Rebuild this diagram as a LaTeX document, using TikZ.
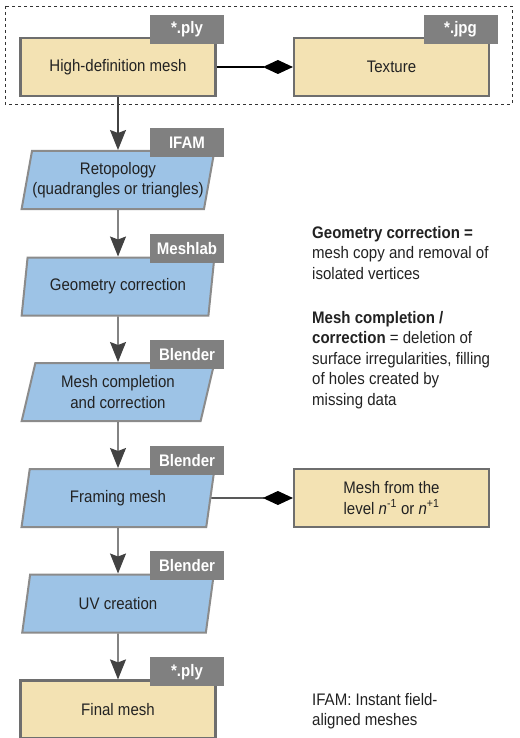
\documentclass[tikz,border=0pt]{standalone}
\usepackage{fontspec}
\setmainfont{Liberation Sans}[FakeStretch=0.9]
\definecolor{meshbeige}{RGB}{243,226,179}
\definecolor{stepblue}{RGB}{157,195,230}
\definecolor{taggray}{RGB}{128,128,128}
\definecolor{edgegray}{RGB}{110,110,110}
\definecolor{textdark}{RGB}{34,34,34}
\usetikzlibrary{shapes.geometric,arrows.meta}

\begin{document}
\begin{tikzpicture}[x=1pt,y=-1pt,font=\fontsize{16.7}{20.5}\selectfont,text=textdark]

%
% Styles
%
\tikzstyle{mesh}    = [rectangle,draw=edgegray,fill=meshbeige,line width=2.2pt,minimum width=195pt,minimum height=58pt,inner sep=0pt,align=center]
\tikzstyle{process} = [trapezium,trapezium left angle=74,trapezium right angle=106,trapezium stretches=true,draw=edgegray!80,fill=stepblue,line width=2pt,minimum width=193pt,minimum height=58pt,inner sep=0pt,align=center]
\tikzstyle{tooltag} = [rectangle,fill=taggray,text=white,font=\fontsize{16.7}{20}\selectfont\bfseries,minimum width=74pt,minimum height=29pt,inner sep=0pt,anchor=south]
\tikzstyle{note}    = [align=left,anchor=north west,inner sep=0pt]

\tikzstyle{flow}    = [-{Stealth[length=20pt,width=16pt,inset=3pt]},line width=1.1pt,draw=edgegray!60!black]
\tikzstyle{haspart} = [-{Diamond[length=30pt,width=14pt]},line width=1.1pt,draw=black]

\useasboundingbox (0,0) rectangle (519,738);
\clip (0,0) rectangle (519,738);
\fill[white] (0,0) rectangle (519,738);

% group of the input files
\draw[dash pattern=on 3pt off 3pt,line width=0.9pt,draw=black!80] (5,6) rectangle (512,104);

\node[mesh]    (hdmesh)   at (118,67)    {High-definition mesh};
\node[mesh]    (texture)  at (391.5,67)  {Texture};
\node[process] (retopo)   at (118,180)   {Retopology\\(quadrangles or triangles)};
\node[process] (geom)     at (118,286.5) {Geometry correction};
\node[process] (complete) at (118,392)   {Mesh completion\\and correction};
\node[process] (framing)  at (118,498)   {Framing mesh};
\node[process] (uv)       at (118,603.5) {UV creation};
\node[mesh]    (final)    at (118,709.5) {Final mesh};
\node[mesh]    (level)    at (391.5,498) {Mesh from the\\level \textit{n}\textsuperscript{-1} or \textit{n}\textsuperscript{+1}};

% software / file tags
\foreach \boxname/\toolname in {hdmesh/*.ply,texture/*.jpg,retopo/IFAM,geom/Meshlab,complete/Blender,framing/Blender,uv/Blender,final/*.ply}
  \node[tooltag] (\boxname-tag) at ([xshift=69pt,yshift=-7pt]\boxname.north) {\toolname};

\foreach \from/\to in {hdmesh/retopo,retopo/geom,geom/complete,complete/framing,framing/uv,uv/final}
  \draw[flow] (\from) -- (\to);

\draw[haspart] (hdmesh) -- (texture);
\draw[haspart] (framing) -- (level);

% notes
\node[note] (geomnote) at (312,226) {\textbf{Geometry correction =}\\mesh copy and removal of\\isolated vertices};
\node[note] (completenote) at (312,311) {\textbf{Mesh completion /}\\\textbf{correction} = deletion of\\surface irregularities, filling\\of holes created by\\missing data};
\node[note] (ifamnote) at (312,693) {IFAM: Instant field-\\aligned meshes};

\end{tikzpicture}
\end{document}
